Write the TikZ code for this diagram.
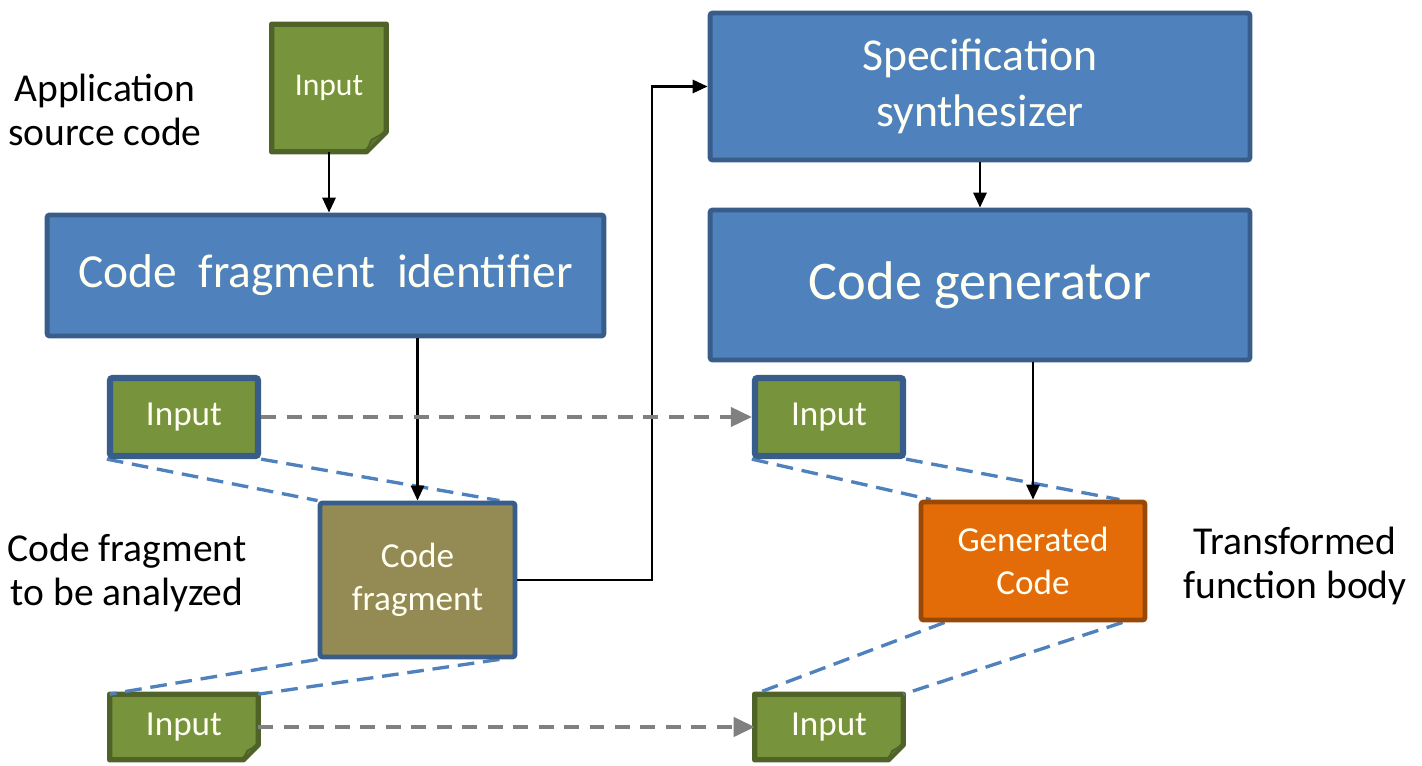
\documentclass[tikz,border=0pt]{standalone}
\usepackage{fontspec}
\setmainfont{Carlito}
\usetikzlibrary{arrows.meta, backgrounds, calc}

\definecolor{boxblue}{RGB}{79,129,189}
\definecolor{edgeblue}{RGB}{56,93,138}
\definecolor{olivegreen}{RGB}{119,147,60}
\definecolor{darkgreen}{RGB}{79,98,40}
\definecolor{foldgreen}{RGB}{96,118,48}
\definecolor{fragbrown}{RGB}{148,138,84}
\definecolor{genorange}{RGB}{227,108,9}
\definecolor{edgeorange}{RGB}{152,72,7}
\definecolor{textwhite}{RGB}{255,255,242}

\begin{document}
\begin{tikzpicture}[x=0.02cm, y=-0.02cm,
  stage/.style={draw=edgeblue, fill=boxblue, line width=2.8pt, rounded corners=1.5pt, text=textwhite, align=center, inner sep=0pt},
  inbox/.style={draw=edgeblue, fill=olivegreen, line width=3.6pt, rounded corners=1.5pt, text=textwhite, minimum width=2.96cm, minimum height=1.56cm, font=\fontsize{20}{24}\selectfont},
  docnode/.style={text=textwhite, inner sep=0pt, minimum width=2.96cm, font=\fontsize{20}{24}\selectfont},
  docshape/.style={draw=darkgreen, fill=olivegreen, line width=3pt, line join=round},
  note/.style={align=center, font=\fontsize{22.5}{25.5}\selectfont},
  flow/.style={-{Triangle[length=8.5pt,width=7.5pt]}, line width=1.4pt},
  carry/.style={draw=gray, line width=2pt, dash pattern=on 8.5pt off 6pt, -{Triangle[length=12pt,width=11pt]}},
  trace/.style={draw=boxblue, line width=1.9pt, dash pattern=on 9.5pt off 5pt}]
\useasboundingbox (0,0) rectangle (1422,766);

%Textos
\node[note] (apptxt) at (105,110) {Application\\source code};
\node[note] (fragtxt) at (127,573) {Code fragment\\to be analyzed};
\node[note] (outtxt) at (1295,566) {Transformed\\function body};

%Izquierda
\node[docnode, minimum width=2.28cm, minimum height=2.54cm, font=\fontsize{18}{22}\selectfont] (src) at (329,88) {Input};
\node[stage, minimum width=11.14cm, minimum height=2.42cm, font=\fontsize{27}{32}\selectfont] (cfi) at (325.5,275.5) {Code~~fragment~~identifier};
\node[inbox] (inA) at (184,417) {Input};
\node[stage, fill=fragbrown, minimum width=3.9cm, minimum height=3.08cm, font=\fontsize{20}{24.5}\selectfont] (frag) at (417.5,580) {Code\\fragment};
\node[docnode, minimum height=1.3cm] (inB) at (184,727) {Input};

%Derecha
\node[stage, minimum width=10.8cm, minimum height=2.94cm, font=\fontsize{26}{32}\selectfont] (spec) at (980,86.5) {Specification\\synthesizer};
\node[stage, minimum width=10.8cm, minimum height=3cm, font=\fontsize{31}{37}\selectfont] (gen) at (980,285) {Code generator};
\node[inbox] (inC) at (829,417) {Input};
\node[stage, draw=edgeorange, fill=genorange, minimum width=4.48cm, minimum height=2.36cm, font=\fontsize{20}{24.5}\selectfont] (gcode) at (1033,561) {Generated\\Code};
\node[docnode, minimum height=1.3cm] (inD) at (829,727) {Input};

%Documentos y lineas
\begin{scope}[on background layer]
\foreach \d/\f in {src/20, inB/15, inD/15} {
  \draw[docshape] (\d.north west) -- (\d.north east) -- ($(\d.south east)+(0,-\f)$) -- ($(\d.south east)+(-\f,0)$) -- (\d.south west) -- cycle;
  \draw[draw=darkgreen, fill=foldgreen, line width=1pt, line join=round] ($(\d.south east)+(-\f,0)$) -- ($(\d.south east)+(0,-\f)$) -- ($(\d.south east)+(-0.75*\f,-0.6*\f)$) -- cycle;
}
\draw[trace] (inA.south west) -- (frag.north west);
\draw[trace] (inA.south east) -- ($(frag.north east)+(-18,0)$);
\draw[trace] (frag.south west) -- (inB.north west);
\draw[trace] ($(frag.south east)+(-18,0)$) -- (inB.north east);
\draw[trace] (inC.south west) -- ($(gcode.north west)+(12,0)$);
\draw[trace] (inC.south east) -- ($(gcode.north east)+(-28,0)$);
\draw[trace] ($(gcode.south west)+(26,0)$) -- (inD.north west);
\draw[trace] ($(gcode.south east)+(-25,0)$) -- (inD.north east);
\end{scope}

%Flechas
\draw[flow] (src.south) -- (src.south |- cfi.north);
\draw[flow] (frag.north |- cfi.south) -- (frag.north);
\coordinate (bend) at (652,580);
\draw[flow] (frag.east) -- (bend) |- (spec.west);
\draw[flow] (spec) -- (gen);
\draw[flow] (gcode.north |- gen.south) -- (gcode.north);
\draw[carry] (inA) -- (inC);
\draw[carry] (inB) -- (inD);
\end{tikzpicture}
\end{document}
